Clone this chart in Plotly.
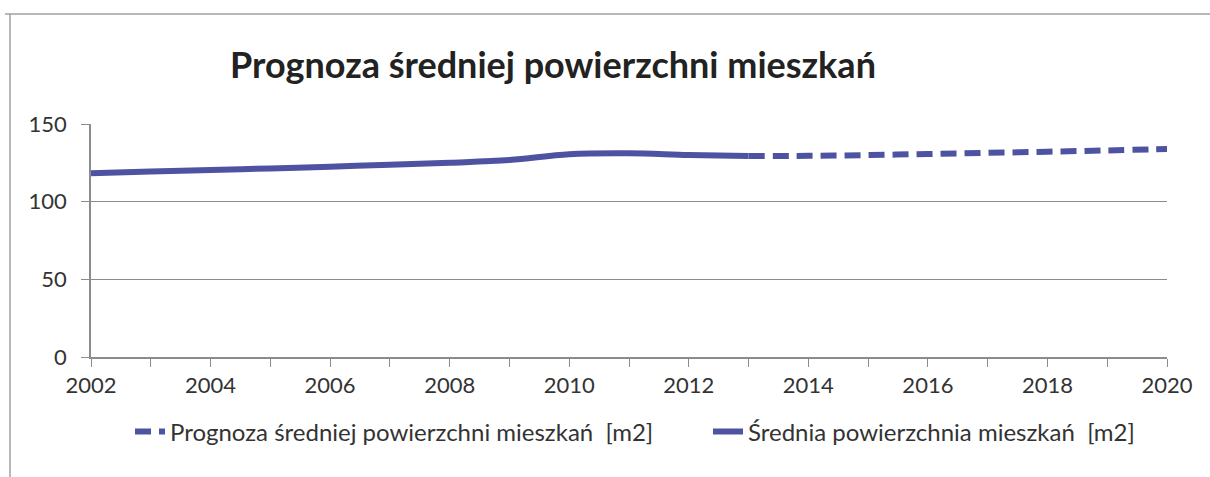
import plotly.graph_objects as go

years_actual = [2002, 2003, 2004, 2005, 2006, 2007, 2008, 2009, 2010, 2011, 2012, 2013]
area_actual = [118.3, 119.4, 120.4, 121.4, 122.5, 123.8, 125.1, 126.8, 130.5, 131.1, 130.0, 129.4]

years_forecast = [2013, 2014, 2015, 2016, 2017, 2018, 2019, 2020]
area_forecast = [129.4, 129.5, 130.0, 130.7, 131.4, 132.2, 133.0, 133.9]

name_forecast = "Prognoza średniej powierzchni mieszkań  [m2]"
name_actual = "Średnia powierzchnia mieszkań  [m2]"
title_text = "Prognoza średniej powierzchni mieszkań"

y_ticks = [0, 50, 100, 150]

line_color = "#4d53a0"
font_family = "Lato"
axis_grey = "#8c8c8c"

fig = go.Figure()
fig.add_trace(go.Scatter(
    x=years_forecast, y=area_forecast, mode="lines", name=name_forecast,
    line=dict(color=line_color, width=6, dash="16px,8px", shape="spline"),
    legend="legend",
))
fig.add_trace(go.Scatter(
    x=years_actual, y=area_actual, mode="lines", name=name_actual,
    line=dict(color=line_color, width=6, shape="spline"),
    legend="legend2",
))

W, H = 1210, 477
L, R, T, B = 91, 43, 124, 120
pw, ph = W - L - R, H - T - B

def px_x(p):
    return (p - L) / pw

def px_y(p):
    return (H - B - p) / ph

legend_font = dict(family=font_family, size=24, color="#333333")

fig.update_layout(
    width=W, height=H,
    margin=dict(l=L, r=R, t=T, b=B),
    paper_bgcolor="white", plot_bgcolor="white",
    font=dict(family=font_family, size=22, color="#333333"),
    title=dict(text="<b>" + title_text + "</b>", x=553 / W, xanchor="center",
               y=1 - 65 / H, yanchor="middle",
               font=dict(family=font_family, size=36, color="#222222")),
    showlegend=True,
    legend=dict(orientation="h", x=px_x(130), xanchor="left", y=px_y(432), yanchor="middle",
                font=legend_font, bgcolor="rgba(0,0,0,0)"),
    legend2=dict(orientation="h", x=px_x(708), xanchor="left", y=px_y(432), yanchor="middle",
                 font=legend_font, bgcolor="rgba(0,0,0,0)"),
    xaxis=dict(range=[2002, 2020], dtick=2, tick0=2002, showgrid=False,
               showline=True, linecolor=axis_grey, linewidth=1.5,
               ticks="outside", ticklen=8, tickcolor=axis_grey,
               minor=dict(dtick=1, tick0=2002, ticks="outside", ticklen=8, tickcolor=axis_grey),
               zeroline=False, fixedrange=True),
    yaxis=dict(range=[0, 150], tickvals=y_ticks, showgrid=True, gridcolor=axis_grey, gridwidth=1.2,
               showline=True, linecolor=axis_grey, linewidth=1.5,
               ticks="outside", ticklen=8, tickcolor=axis_grey, ticklabelstandoff=10,
               zeroline=False, fixedrange=True),
    shapes=[
        dict(type="line", xref="paper", yref="paper", x0=px_x(5), x1=px_x(1210),
             y0=px_y(14), y1=px_y(14), line=dict(color="#a0a0a0", width=1.5)),
        dict(type="line", xref="paper", yref="paper", x0=px_x(10), x1=px_x(10),
             y0=px_y(14), y1=px_y(477), line=dict(color="#a0a0a0", width=1.5)),
    ],
)
fig.write_html("out.html", config={"displayModeBar": False},
               post_script="document.body.style.margin='0';")
